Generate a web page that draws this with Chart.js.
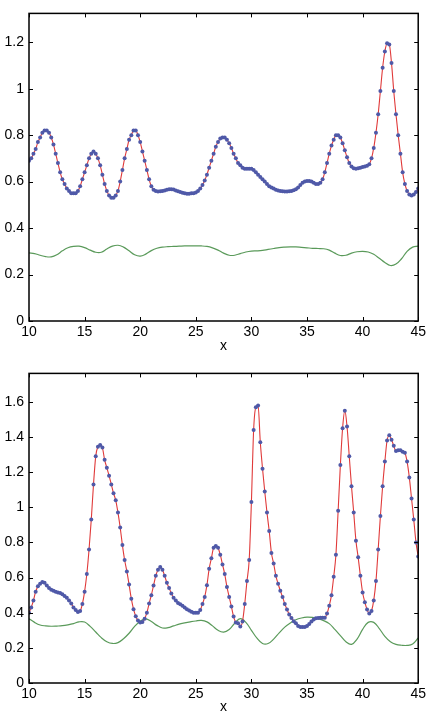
<!DOCTYPE html>
<html><head><meta charset="utf-8">
<script src="https://cdn.jsdelivr.net/npm/chart.js@4"></script>
<style>
html,body{margin:0;padding:0;background:#fff;overflow:hidden;}
#w1{position:absolute;left:0;top:0;width:429px;height:360px;}
#w2{position:absolute;left:0;top:360px;width:429px;height:361px;}
</style></head><body>
<div id="w1"><canvas id="c1"></canvas></div>
<div id="w2"><canvas id="c2"></canvas></div>
<script>
const xStart = 10, dotStep = 0.2, greenStep = 0.5;
const xTicks = [10, 15, 20, 25, 30, 35, 40, 45];
const yTicksTop = [0, 0.2, 0.4, 0.6, 0.8, 1, 1.2];
const yTicksBottom = [0, 0.2, 0.4, 0.6, 0.8, 1, 1.2, 1.4, 1.6];

const topData = [
0.69,0.70,0.72,0.74,0.77,0.79,0.81,0.82,0.82,0.81,
0.79,0.76,0.72,0.68,0.64,0.61,0.59,0.57,0.56,0.55,
0.55,0.55,0.56,0.58,0.61,0.64,0.67,0.70,0.72,0.73,
0.72,0.70,0.67,0.63,0.59,0.56,0.54,0.53,0.53,0.54,
0.56,0.60,0.65,0.70,0.74,0.78,0.80,0.82,0.82,0.80,
0.77,0.73,0.69,0.65,0.61,0.58,0.565,0.56,0.557,0.558,
0.56,0.562,0.565,0.567,0.567,0.566,0.562,0.558,0.555,0.552,
0.55,0.548,0.548,0.55,0.55,0.553,0.56,0.57,0.585,0.605,
0.63,0.66,0.69,0.72,0.75,0.77,0.785,0.79,0.79,0.78,
0.765,0.745,0.72,0.70,0.68,0.67,0.66,0.655,0.655,0.655,
0.655,0.65,0.64,0.63,0.62,0.61,0.60,0.59,0.58,0.575,
0.57,0.565,0.562,0.56,0.558,0.557,0.557,0.558,0.56,0.563,
0.567,0.575,0.585,0.595,0.60,0.603,0.603,0.60,0.595,0.59,
0.59,0.595,0.61,0.64,0.68,0.72,0.755,0.78,0.80,0.80,
0.79,0.765,0.735,0.705,0.68,0.665,0.658,0.655,0.658,0.66,
0.663,0.665,0.668,0.675,0.70,0.745,0.81,0.89,0.99,1.09,
1.16,1.195,1.19,1.11,0.99,0.89,0.80,0.72,0.64,0.59,
0.56,0.545,0.54,0.545,0.555,0.57
];
const topGreen = [
0.293,0.29,0.283,0.277,0.276,0.285,0.302,0.315,0.321,0.322,
0.316,0.305,0.296,0.296,0.31,0.322,0.326,0.318,0.302,0.285,
0.279,0.288,0.303,0.313,0.318,0.32,0.321,0.322,0.323,0.323,
0.323,0.323,0.321,0.315,0.305,0.292,0.283,0.283,0.29,0.297,
0.301,0.302,0.304,0.308,0.312,0.316,0.318,0.319,0.319,0.317,
0.315,0.313,0.312,0.311,0.305,0.292,0.282,0.283,0.292,0.298,
0.3,0.297,0.287,0.27,0.252,0.239,0.245,0.268,0.3,0.318,
0.322
];
const bottomData = [
0.40,0.43,0.47,0.52,0.55,0.565,0.575,0.57,0.555,0.54,
0.53,0.525,0.52,0.515,0.512,0.505,0.495,0.485,0.47,0.452,
0.43,0.415,0.404,0.41,0.45,0.52,0.62,0.76,0.93,1.13,
1.29,1.345,1.355,1.34,1.27,1.225,1.18,1.13,1.08,1.04,
0.97,0.885,0.785,0.70,0.635,0.56,0.48,0.42,0.38,0.355,
0.345,0.347,0.365,0.40,0.452,0.50,0.555,0.61,0.645,0.66,
0.645,0.61,0.57,0.54,0.51,0.485,0.47,0.455,0.448,0.44,
0.43,0.42,0.412,0.405,0.40,0.40,0.40,0.415,0.45,0.49,
0.557,0.65,0.71,0.77,0.78,0.77,0.73,0.675,0.62,0.547,
0.49,0.435,0.378,0.345,0.34,0.322,0.35,0.45,0.58,0.70,
1.03,1.44,1.57,1.58,1.37,1.22,1.09,0.97,0.865,0.74,
0.68,0.61,0.565,0.525,0.49,0.45,0.418,0.39,0.37,0.352,
0.34,0.325,0.318,0.318,0.319,0.325,0.336,0.35,0.362,0.368,
0.37,0.372,0.372,0.372,0.395,0.44,0.50,0.605,0.73,0.98,
1.24,1.45,1.55,1.46,1.29,1.12,0.97,0.81,0.715,0.61,
0.515,0.46,0.418,0.395,0.41,0.47,0.58,0.76,0.95,1.12,
1.26,1.38,1.41,1.385,1.35,1.32,1.325,1.325,1.316,1.31,
1.26,1.17,1.05,0.93,0.80,0.72
];
const bottomGreen = [
0.366,0.345,0.33,0.325,0.323,0.324,0.326,0.331,0.338,0.348,
0.347,0.322,0.29,0.258,0.235,0.225,0.23,0.252,0.283,0.322,
0.352,0.365,0.35,0.328,0.313,0.315,0.325,0.335,0.342,0.348,
0.353,0.356,0.348,0.325,0.3,0.29,0.305,0.34,0.366,0.345,
0.3,0.255,0.225,0.225,0.25,0.285,0.318,0.342,0.36,0.37,
0.375,0.373,0.366,0.355,0.338,0.305,0.27,0.235,0.22,0.25,
0.305,0.345,0.345,0.31,0.265,0.235,0.22,0.215,0.214,0.222,
0.256
];

function toXY(arr, step) {
  return arr.map((v, i) => ({ x: xStart + i * step, y: v }));
}

const FONT = { family: "'Liberation Sans', Arial, sans-serif", size: 14 };

const frame = {
  id: 'frame',
  afterDatasetsDraw(chart) {
    const { ctx, chartArea: a, scales: { x, y } } = chart;
    const L = 4;
    ctx.save();
    ctx.strokeStyle = '#000';
    ctx.lineWidth = 1;
    ctx.beginPath();
    x.ticks.forEach(t => {
      const p = Math.round(x.getPixelForValue(t.value)) + 0.5;
      ctx.moveTo(p, a.bottom); ctx.lineTo(p, a.bottom - L);
      ctx.moveTo(p, a.top); ctx.lineTo(p, a.top + L);
    });
    y.ticks.forEach(t => {
      const p = Math.round(y.getPixelForValue(t.value)) + 0.5;
      ctx.moveTo(a.left, p); ctx.lineTo(a.left + L, p);
      ctx.moveTo(a.right, p); ctx.lineTo(a.right - L, p);
    });
    ctx.stroke();
    ctx.lineWidth = 1.5;
    ctx.strokeRect(a.left, a.top, a.right - a.left, a.bottom - a.top);
    ctx.restore();
  }
};

function makeChart(id, dots, green, yMax, yTicks, padTop, xHeight) {
  return new Chart(document.getElementById(id), {
    type: 'scatter',
    data: {
      datasets: [
        { data: toXY(green, greenStep), showLine: true, borderColor: '#5a9a5a', borderWidth: 1.2,
          pointRadius: 0, tension: 0.4, fill: false, order: 3 },
        { data: toXY(dots, dotStep), showLine: true, borderColor: '#e03a3a', borderWidth: 1.1,
          pointRadius: 0, cubicInterpolationMode: 'monotone', fill: false, order: 2 },
        { data: toXY(dots, dotStep), showLine: false, pointRadius: 2, pointBorderWidth: 0,
          backgroundColor: '#4f59a8', borderColor: '#4f59a8', order: 1 }
      ]
    },
    options: {
      responsive: true, maintainAspectRatio: false, animation: false, devicePixelRatio: 1,
      layout: { padding: { top: padTop, left: 0, right: 0, bottom: 0 } },
      plugins: { legend: { display: false }, tooltip: { enabled: false } },
      scales: {
        x: {
          type: 'linear', min: 10, max: 45,
          grid: { display: false, drawTicks: false },
          border: { display: false },
          ticks: { font: FONT, color: '#000', padding: 3, maxRotation: 0, autoSkip: false,
                   callback: v => String(v) },
          title: { display: true, text: 'x', font: FONT, color: '#000', padding: { top: 0, bottom: 5 } },
          afterBuildTicks: s => { s.ticks = xTicks.map(v => ({ value: v })); },
          afterFit: s => { s.height = xHeight; }
        },
        y: {
          type: 'linear', min: 0, max: yMax,
          grid: { display: false, drawTicks: false },
          border: { display: false },
          ticks: { font: FONT, color: '#000', padding: 5, autoSkip: false,
                   callback: v => String(+(+v).toFixed(2)) },
          afterBuildTicks: s => { s.ticks = yTicks.map(v => ({ value: v })); },
          afterFit: s => { s.width = 29; }
        }
      }
    },
    plugins: [frame]
  });
}

makeChart('c1', topData, topGreen, 1.324, yTicksTop, 11, 39);
makeChart('c2', bottomData, bottomGreen, 1.762, yTicksBottom, 13, 38);
</script>
</body></html>
